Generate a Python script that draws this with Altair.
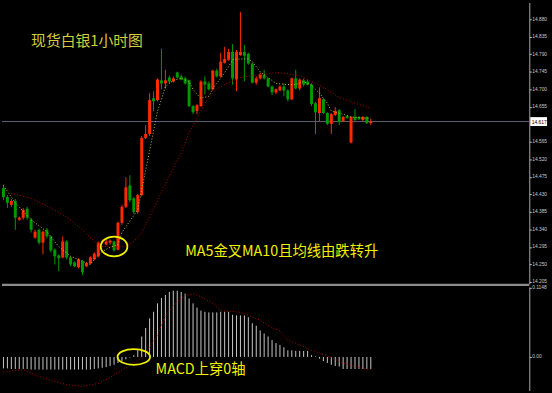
import altair as alt
import pandas as pd

# ---------------- data ----------------
opens = [14.446,14.423,14.403,14.413,14.365,14.370,14.393,14.365,14.319,14.339,
         14.306,14.339,14.322,14.288,14.273,14.268,14.309,14.268,14.255,14.243,
         14.258,14.245,14.253,14.263,14.271,14.309,14.301,14.306,14.309,14.288,
         14.357,14.398,14.453,14.420,14.385,14.428,14.575,14.585,14.677,14.672,
         14.723,14.715,14.730,14.720,14.743,14.733,14.728,14.723,14.657,14.644,
         14.657,14.720,14.715,14.700,14.748,14.733,14.768,14.776,14.796,14.725,
         14.788,14.796,14.791,14.766,14.717,14.728,14.738,14.728,14.707,14.692,
         14.697,14.707,14.697,14.674,14.728,14.702,14.723,14.720,14.712,14.664,
         14.639,14.674,14.639,14.611,14.634,14.646,14.618,14.631,14.563,14.629,
         14.629,14.621,14.629,14.613]
closes = [14.423,14.408,14.413,14.370,14.370,14.390,14.370,14.339,14.334,14.306,
          14.334,14.322,14.286,14.271,14.266,14.309,14.268,14.250,14.245,14.263,
          14.230,14.253,14.268,14.278,14.306,14.311,14.309,14.311,14.286,14.357,
          14.398,14.448,14.415,14.385,14.428,14.575,14.585,14.672,14.669,14.725,
          14.715,14.723,14.720,14.728,14.730,14.725,14.715,14.657,14.641,14.659,
          14.720,14.712,14.700,14.748,14.733,14.771,14.778,14.796,14.728,14.796,
          14.796,14.786,14.766,14.717,14.728,14.738,14.728,14.707,14.692,14.700,
          14.707,14.697,14.674,14.728,14.702,14.725,14.712,14.712,14.662,14.641,
          14.677,14.639,14.611,14.636,14.644,14.616,14.629,14.626,14.629,14.621,
          14.624,14.629,14.613,14.617]
highs = [14.453,14.428,14.418,14.418,14.373,14.395,14.398,14.370,14.339,14.342,
         14.337,14.344,14.324,14.291,14.276,14.322,14.312,14.271,14.258,14.266,
         14.261,14.256,14.271,14.281,14.309,14.314,14.314,14.314,14.311,14.360,
         14.403,14.474,14.479,14.423,14.431,14.580,14.608,14.690,14.695,14.728,
         14.804,14.750,14.735,14.733,14.745,14.738,14.733,14.725,14.659,14.662,
         14.723,14.733,14.720,14.750,14.753,14.794,14.809,14.804,14.816,14.801,
         14.898,14.814,14.794,14.768,14.733,14.743,14.750,14.730,14.710,14.702,
         14.710,14.715,14.700,14.730,14.750,14.728,14.728,14.725,14.715,14.667,
         14.705,14.677,14.641,14.639,14.654,14.649,14.631,14.634,14.631,14.649,
         14.631,14.631,14.631,14.624]
lows = [14.415,14.395,14.398,14.339,14.362,14.365,14.365,14.332,14.316,14.301,
        14.276,14.317,14.281,14.250,14.233,14.266,14.263,14.245,14.243,14.240,
        14.223,14.243,14.250,14.261,14.268,14.304,14.299,14.301,14.283,14.286,
        14.352,14.395,14.410,14.380,14.380,14.425,14.572,14.580,14.644,14.669,
        14.700,14.702,14.715,14.717,14.728,14.723,14.712,14.654,14.636,14.636,
        14.654,14.687,14.697,14.697,14.730,14.730,14.766,14.773,14.712,14.695,
        14.786,14.720,14.763,14.715,14.712,14.725,14.725,14.705,14.685,14.687,
        14.695,14.682,14.669,14.672,14.700,14.697,14.707,14.710,14.657,14.585,
        14.618,14.636,14.608,14.585,14.631,14.608,14.616,14.624,14.561,14.618,
        14.621,14.618,14.611,14.608]

ma5_idx = [0,3,7,11,14,17,20,22,23,25,27,29,30,31,34,35,37,39,40,41,
           43,45,47,48,49,50,52,53,55,57,58,60,62,63,65,67,69,72,74,76,
           78,80,82,83,86,88,91,93]
ma5_val = [14.453,14.408,14.365,14.334,14.296,14.271,14.258,14.250,14.263,14.283,
           14.294,14.301,14.332,14.347,14.390,14.441,14.542,14.644,14.674,14.707,
           14.723,14.728,14.720,14.700,14.687,14.677,14.682,14.702,14.728,14.758,
           14.776,14.778,14.778,14.771,14.745,14.730,14.715,14.712,14.712,14.720,
           14.710,14.690,14.664,14.644,14.636,14.629,14.626,14.626]

ma10_idx = [0,2,7,12,16,20,23,25,28,31,33,35,37,40,43,45,47,49,51,54,
            57,60,63,66,69,72,75,78,81,85,89,93]
ma10_val = [14.456,14.433,14.420,14.395,14.372,14.339,14.309,14.296,14.294,14.296,
            14.309,14.332,14.372,14.436,14.497,14.537,14.588,14.626,14.664,14.702,
            14.717,14.730,14.735,14.738,14.743,14.740,14.735,14.720,14.705,14.679,
            14.664,14.651]

macd_hist = [-0.019,-0.019,-0.020,-0.020,-0.020,-0.020,-0.020,-0.021,-0.021,-0.021,
             -0.021,-0.021,-0.021,-0.021,-0.021,-0.021,-0.021,-0.021,-0.021,-0.021,
             -0.021,-0.021,-0.021,-0.020,-0.019,-0.018,-0.017,-0.015,-0.013,-0.010,
             -0.007,-0.004,-0.001,0.003,0.011,0.034,0.048,0.064,0.075,0.089,
             0.098,0.103,0.108,0.110,0.110,0.108,0.105,0.097,0.089,0.082,
             0.077,0.075,0.074,0.074,0.074,0.075,0.075,0.075,0.070,0.069,
             0.069,0.069,0.066,0.056,0.052,0.044,0.039,0.034,0.028,0.023,
             0.020,0.016,0.011,0.011,0.010,0.010,0.010,0.010,0.003,0.001,
             -0.003,-0.007,-0.010,-0.013,-0.015,-0.016,-0.020,-0.020,-0.020,-0.020,
             -0.020,-0.020,-0.020,-0.020]

sig_idx = [0,5,8,12,16,20,24,27,30,34,36,39,41,44,46,48,50,53,55,59,
           61,65,67,70,72,75,78,82,86,90,93]
sig_val = [-0.025,-0.021,-0.030,-0.039,-0.046,-0.049,-0.044,-0.034,-0.021,-0.007,
           0.007,0.036,0.069,0.092,0.102,0.105,0.100,0.089,0.077,0.075,
           0.072,0.061,0.052,0.043,0.028,0.020,0.011,0.002,-0.010,-0.018,
           -0.021]

price_ticks = [14.205,14.250,14.295,14.340,14.385,14.430,14.475,14.520,
               14.565,14.655,14.700,14.745,14.790,14.835,14.880]
macd_ticks = [0.0, 0.1148]
current_price = 14.617

title_txt = "现货白银1小时图"
ann1_txt = "MA5金叉MA10且均线由跌转升"
ann2_txt = "MACD上穿0轴"

# ---------------- tables ----------------
n = len(opens)
candles = pd.DataFrame({"i": list(range(n)), "open": opens, "close": closes,
                        "high": highs, "low": lows})
candles["dir"] = ["up" if c >= o else "down" for o, c in zip(opens, closes)]
ma5 = pd.DataFrame({"i": ma5_idx, "v": ma5_val})
ma10 = pd.DataFrame({"i": ma10_idx, "v": ma10_val})
macd = pd.DataFrame({"i": list(range(n)), "v": macd_hist, "zero": [0.0] * n})
sig = pd.DataFrame({"i": sig_idx, "v": sig_val})

FONT = "Noto Sans CJK SC"
W = 534
xs = alt.Scale(domain=[-0.375, 133.125], nice=False, zero=False, padding=0)
X = alt.X("i:Q", scale=xs, axis=None)
ps = alt.Scale(domain=[14.200, 14.923], nice=False, zero=False, padding=0)
ms = alt.Scale(domain=[-0.0558, 0.1164], nice=False, zero=False, padding=0)
col = alt.Color("dir:N", scale=alt.Scale(domain=["up", "down"], range=["#ff2a00", "#009a00"]), legend=None)

axis_common = dict(orient="right", grid=False, labelFont="Liberation Sans", labelFontSize=4.9,
                   labelColor="#c8c8c8", tickColor="#c8c8c8", tickSize=2, labelPadding=0.5,
                   domainColor="#a8a8a8", domainWidth=1, labelOverlap=False, labelBound=False,
                   title=None)
price_axis = alt.Axis(values=price_ticks, format=".3f", **axis_common)
macd_axis = alt.Axis(values=macd_ticks,
                     labelExpr="datum.value == 0 ? '0.00' : format(datum.value, '.4f')",
                     **axis_common)


def PY(field):
    return alt.Y(field, scale=ps, axis=price_axis, title=None)


def MY(field):
    return alt.Y(field, scale=ms, axis=macd_axis, title=None)


pline = alt.Chart(pd.DataFrame({"p": [current_price]})).mark_rule(color="#5c6478", strokeWidth=1).encode(
    y=PY("p:Q"), x=alt.value(0), x2=alt.value(W))

wicks = alt.Chart(candles).mark_rule(strokeWidth=1).encode(
    x=X, y=PY("low:Q"), y2="high:Q", color=col)
bodies = alt.Chart(candles).mark_bar(size=3).encode(
    x=X, y=PY("open:Q"), y2="close:Q", color=col)

ma10_l = alt.Chart(ma10).mark_line(color="#b00000", strokeWidth=1, strokeDash=[1, 2]).encode(
    x=X, y=PY("v:Q"))
ma5_l = alt.Chart(ma5).mark_line(color="#c0c040", strokeWidth=1, strokeDash=[1, 2]).encode(
    x=X, y=PY("v:Q"))

ttl = alt.Chart(pd.DataFrame({"i": [7], "p": [14.824], "t": [title_txt]})).mark_text(
    font=FONT, fontSize=15, color="#d0d03c", align="left", baseline="middle").encode(
    x=X, y=PY("p:Q"), text="t:N")
ann1 = alt.Chart(pd.DataFrame({"i": [46], "p": [14.283], "t": [ann1_txt]})).mark_text(
    font=FONT, fontSize=14.5, color="#f0f000", align="left", baseline="middle").encode(
    x=X, y=PY("p:Q"), text="t:N")

ell1 = alt.Chart(pd.DataFrame({"i": [28.0], "p": [14.296]})).mark_point(
    shape="M -1 0 A 1 0.74 0 1 1 1 0 A 1 0.74 0 1 1 -1 0 Z", size=729,
    filled=False, color="#f0f000", strokeWidth=1.8, opacity=1).encode(
    x=X, y=PY("p:Q"))

box = alt.Chart(pd.DataFrame({"p": [current_price]})).mark_rule(color="white", strokeWidth=9).encode(
    y=PY("p:Q"), x=alt.value(W + 1), x2=alt.value(552))
box_t = alt.Chart(pd.DataFrame({"p": [current_price], "t": ["14.617"]})).mark_text(
    font="Liberation Sans", fontSize=5, color="black", align="left", baseline="middle").encode(
    y=PY("p:Q"), x=alt.value(W + 2.5), text="t:N")

sep = alt.Chart(pd.DataFrame({"p": [0]})).mark_rule(color="#8c8c8c", strokeWidth=2.5).encode(
    y=alt.value(286), x=alt.value(0), x2=alt.value(W))

top = alt.layer(pline, wicks, bodies, ma10_l, ma5_l, ttl, ann1, ell1, sep, box, box_t).properties(
    width=W, height=285)

bars = alt.Chart(macd).mark_rule(color="#c8c8c8", strokeWidth=1).encode(
    x=X, y=MY("zero:Q"), y2="v:Q")
sig_l = alt.Chart(sig).mark_line(color="#b00000", strokeWidth=1, strokeDash=[1, 2]).encode(
    x=X, y=MY("v:Q"))
ann2 = alt.Chart(pd.DataFrame({"i": [38.5], "v": [-0.0213], "t": [ann2_txt]})).mark_text(
    font=FONT, fontSize=14.5, color="#f0f000", align="left", baseline="middle").encode(
    x=X, y=MY("v:Q"), text="t:N")
ell2 = alt.Chart(pd.DataFrame({"i": [33.0], "v": [0.0]})).mark_point(
    shape="M -1 0 A 1 0.485 0 1 1 1 0 A 1 0.485 0 1 1 -1 0 Z", size=1089,
    filled=False, color="#f0f000", strokeWidth=1.8, opacity=1).encode(
    x=X, y=MY("v:Q"))

bottom = alt.layer(bars, sig_l, ann2, ell2).properties(width=W, height=105)

chart = alt.vconcat(top, bottom, spacing=3, bounds="flush").properties(
    padding=0, background="black").configure_view(strokeWidth=0).configure_axis(labelOverlap=False)

chart.save("out.html", embed_options={"renderer": "svg", "actions": False})
